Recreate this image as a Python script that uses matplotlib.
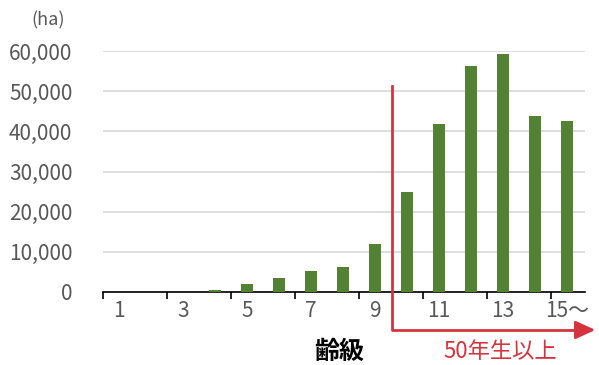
import numpy as np
import matplotlib.pyplot as plt

plt.rcParams['font.family'] = ['Noto Sans CJK JP', 'DejaVu Sans']

# 齢級ごとの面積 (ha)
classes = list(range(1, 16))
area = [0, 0, 0, 500, 1900, 3600, 5200, 6200, 11900, 24900, 41800, 56200, 59200, 43800, 42500]
tick_labels = ['1', '3', '5', '7', '9', '11', '13', '15～']

fig = plt.figure(figsize=(5.99, 3.65), dpi=100)
ax = fig.add_axes([103 / 599, 1 - 292 / 365, 482 / 599, 241 / 365])

ax.bar(classes, area, width=0.4, color='#548235', zorder=3)

ax.set_xlim(0.5, 15.56)
ax.set_ylim(0, 60000)
ax.set_yticks(np.arange(0, 60001, 10000))
ax.set_yticklabels([f'{v:,}' for v in range(0, 60001, 10000)])
ax.grid(axis='y', color='#d9d9d9', linewidth=1.2, zorder=0)

# 目盛り線は2齢級ごとの境界、ラベルは奇数齢級の中央
ax.set_xticks(np.arange(0.5, 15, 2))
ax.set_xticklabels([])
ax.set_xticks(classes[::2], minor=True)
ax.set_xticklabels(tick_labels, minor=True)
ax.tick_params(axis='x', which='major', length=5, width=1.2, color='black')
ax.tick_params(axis='x', which='minor', length=0, pad=6, labelsize=15, labelcolor='#595959')
ax.tick_params(axis='y', length=0, pad=22, labelsize=15, labelcolor='#595959')

for s in ['left', 'right', 'top']:
    ax.spines[s].set_visible(False)
ax.spines['bottom'].set_linewidth(1.2)

fig.text(48 / 599, 1 - 20 / 365, '(ha)', ha='center', va='center', fontsize=13, color='#595959')
fig.text(339 / 599, 1 - 352 / 365, '齢級', ha='center', va='center', fontsize=18, fontweight='bold')

# 50年生以上の範囲を示す矢印
red = '#d5343f'
ax.plot([9.53, 9.53, 15.4], [51200, -9450, -9450], color=red, linewidth=2, clip_on=False, zorder=4)
ax.annotate('', xy=(15.97, -9450), xytext=(15.3, -9450), xycoords='data',
            arrowprops=dict(arrowstyle='-|>,head_length=1.2,head_width=0.55', color=red, lw=2),
            annotation_clip=False)
fig.text(500 / 599, 1 - 351 / 365, '50年生以上', ha='center', va='center', fontsize=16, color=red)

fig.savefig('out.png', dpi=100)
